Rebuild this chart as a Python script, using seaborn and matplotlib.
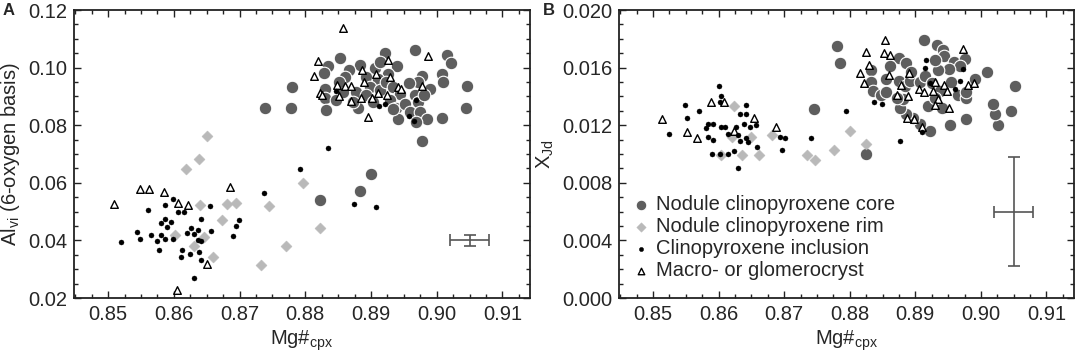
import numpy as np
import pandas as pd
import matplotlib
matplotlib.use("Agg")
import matplotlib.pyplot as plt
from matplotlib.ticker import MultipleLocator, FormatStrFormatter
import seaborn as sns

# ---------------- Panel A: Al_vi vs Mg# ----------------
a_core_x = [0.8738, 0.8779, 0.8780, 0.8822, 0.8883, 0.8900, 0.8978, 0.8967, 0.8922, 0.9016,
            0.9022, 0.8853, 0.8834, 0.8829, 0.8883, 0.8867, 0.8906, 0.8914, 0.8939, 0.8926,
            0.8860, 0.8893, 0.8911, 0.8977, 0.9008, 0.9010, 0.8990, 0.8972, 0.8958, 0.9046,
            0.8830, 0.8830, 0.8847, 0.8857, 0.8877, 0.8898, 0.8893, 0.8913, 0.8923, 0.8934,
            0.8944, 0.8929, 0.8903, 0.8880, 0.8872, 0.8831, 0.8938, 0.8952, 0.8967, 0.8972,
            0.8959, 0.8974, 0.8985, 0.8969, 0.8941, 0.8934, 0.9008, 0.9045, 0.8980, 0.8852]
a_core_y = [0.0860, 0.0860, 0.0933, 0.0542, 0.0572, 0.0630, 0.0746, 0.1061, 0.1049, 0.1043,
            0.1017, 0.1035, 0.1005, 0.0980, 0.1009, 0.0991, 0.0997, 0.1020, 0.1006, 0.0977,
            0.0966, 0.0968, 0.0962, 0.0970, 0.0977, 0.0951, 0.0927, 0.0951, 0.0945, 0.0936,
            0.0927, 0.0893, 0.0887, 0.0916, 0.0916, 0.0933, 0.0904, 0.0922, 0.0951, 0.0933,
            0.0910, 0.0887, 0.0881, 0.0861, 0.0881, 0.0854, 0.0858, 0.0875, 0.0904, 0.0881,
            0.0846, 0.0846, 0.0820, 0.0812, 0.0820, 0.0855, 0.0825, 0.0861, 0.0904, 0.0951]

a_rim_x = [0.8650, 0.8639, 0.8619, 0.8640, 0.8681, 0.8694, 0.8674, 0.8631, 0.8646, 0.8659,
           0.8602, 0.8745, 0.8796, 0.8822, 0.8771, 0.8732]
a_rim_y = [0.0761, 0.0681, 0.0648, 0.0522, 0.0526, 0.0531, 0.0472, 0.0382, 0.0411, 0.0342,
           0.0418, 0.0520, 0.0601, 0.0444, 0.0380, 0.0314]

a_incl_x = [0.8598, 0.8586, 0.8561, 0.8607, 0.8615, 0.8655, 0.8642, 0.8699, 0.8694, 0.8690,
            0.8586, 0.8580, 0.8596, 0.8590, 0.8544, 0.8549, 0.8565, 0.8519, 0.8575, 0.8578,
            0.8580, 0.8587, 0.8598, 0.8626, 0.8620, 0.8630, 0.8637, 0.8637, 0.8642, 0.8656,
            0.8613, 0.8611, 0.8625, 0.8638, 0.8641, 0.8630, 0.8847, 0.8912, 0.8921, 0.8969,
            0.8958, 0.8965, 0.8834, 0.8737, 0.8792, 0.8874, 0.8908]
a_incl_y = [0.0543, 0.0523, 0.0505, 0.0497, 0.0497, 0.0518, 0.0476, 0.0472, 0.0451, 0.0417,
            0.0476, 0.0460, 0.0465, 0.0448, 0.0428, 0.0405, 0.0420, 0.0394, 0.0397, 0.0367,
            0.0418, 0.0405, 0.0405, 0.0442, 0.0425, 0.0422, 0.0437, 0.0402, 0.0397, 0.0431,
            0.0365, 0.0344, 0.0354, 0.0359, 0.0333, 0.0270, 0.0919, 0.0866, 0.0872, 0.0887,
            0.0831, 0.0814, 0.0722, 0.0565, 0.0648, 0.0528, 0.0516]

a_macro_x = [0.8509, 0.8548, 0.8562, 0.8585, 0.8606, 0.8621, 0.8686, 0.8651, 0.8604, 0.8857,
             0.8819, 0.8814, 0.8987, 0.8926, 0.8887, 0.8907, 0.8889, 0.8929, 0.8849, 0.8860,
             0.8869, 0.8823, 0.8826, 0.8851, 0.8885, 0.8870, 0.8902, 0.8911, 0.8924, 0.8941,
             0.8946, 0.8977, 0.8895]
a_macro_y = [0.0528, 0.0580, 0.0580, 0.0569, 0.0531, 0.0522, 0.0585, 0.0319, 0.0227, 0.1136,
             0.1024, 0.0970, 0.1040, 0.1028, 0.0991, 0.0977, 0.0951, 0.0968, 0.0939, 0.0937,
             0.0937, 0.0912, 0.0904, 0.0901, 0.0896, 0.0883, 0.0896, 0.0912, 0.0904, 0.0933,
             0.0927, 0.0936, 0.0829]

# ---------------- Panel B: X_Jd vs Mg# ----------------
b_core_x = [0.8781, 0.8785, 0.8746, 0.8825, 0.9052, 0.9046, 0.9026, 0.9022, 0.9019, 0.9009,
            0.8953, 0.8923, 0.8978, 0.8913, 0.8933, 0.8942, 0.8943, 0.8959, 0.8976, 0.8968,
            0.8952, 0.8935, 0.8875, 0.8885, 0.8861, 0.8833, 0.8833, 0.8856, 0.8835, 0.8847,
            0.8875, 0.8884, 0.8892, 0.8907, 0.8914, 0.8925, 0.8937, 0.8955, 0.8965, 0.8978,
            0.8978, 0.8991, 0.8907, 0.8896, 0.8886, 0.8876, 0.8881, 0.8919, 0.8940, 0.8930,
            0.8856, 0.8872, 0.8894, 0.8930]
b_core_y = [0.0175, 0.0163, 0.0131, 0.0100, 0.0147, 0.0130, 0.0120, 0.0128, 0.0135, 0.0157,
            0.0120, 0.0116, 0.0124, 0.0179, 0.0176, 0.0172, 0.0168, 0.0164, 0.0166, 0.0161,
            0.0159, 0.0158, 0.0167, 0.0163, 0.0161, 0.0158, 0.0150, 0.0152, 0.0144, 0.0141,
            0.0151, 0.0147, 0.0151, 0.0150, 0.0154, 0.0149, 0.0144, 0.0150, 0.0141, 0.0139,
            0.0143, 0.0152, 0.0121, 0.0125, 0.0128, 0.0132, 0.0138, 0.0133, 0.0132, 0.0139,
            0.0143, 0.0139, 0.0157, 0.0165]

b_rim_x = [0.8623, 0.8620, 0.8649, 0.8635, 0.8662, 0.8682, 0.8734, 0.8747, 0.8776, 0.8603,
           0.8800, 0.8825]
b_rim_y = [0.0133, 0.0112, 0.0112, 0.0099, 0.0099, 0.0113, 0.0099, 0.0096, 0.0103, 0.0099,
           0.0116, 0.0107]

b_incl_x = [0.8600, 0.8604, 0.8602, 0.8548, 0.8570, 0.8552, 0.8524, 0.8641, 0.8633, 0.8641,
            0.8583, 0.8591, 0.8580, 0.8603, 0.8610, 0.8627, 0.8639, 0.8648, 0.8657, 0.8615,
            0.8629, 0.8583, 0.8591, 0.8633, 0.8641, 0.8645, 0.8659, 0.8590, 0.8602, 0.8615,
            0.8623, 0.8629, 0.8693, 0.8701, 0.8696, 0.8741, 0.8916, 0.8915, 0.8973, 0.8922,
            0.8968, 0.8960, 0.8837, 0.8849, 0.8794, 0.8910, 0.8877]
b_incl_y = [0.0147, 0.0140, 0.0136, 0.0134, 0.0130, 0.0125, 0.0114, 0.0134, 0.0128, 0.0128,
            0.0121, 0.0121, 0.0118, 0.0119, 0.0119, 0.0119, 0.0121, 0.0119, 0.0120, 0.0114,
            0.0113, 0.0112, 0.0110, 0.0109, 0.0111, 0.0108, 0.0105, 0.0100, 0.0100, 0.0100,
            0.0102, 0.0090, 0.0112, 0.0111, 0.0103, 0.0111, 0.0165, 0.0160, 0.0159, 0.0149,
            0.0151, 0.0145, 0.0136, 0.0135, 0.0130, 0.0115, 0.0109]

b_macro_x = [0.8513, 0.8589, 0.8608, 0.8552, 0.8567, 0.8654, 0.8623, 0.8688,
             0.8853, 0.8825, 0.8852, 0.8862, 0.8830, 0.8816, 0.8821, 0.8860, 0.8891, 0.8878,
             0.8872, 0.8889, 0.8905, 0.8913, 0.8930, 0.8927, 0.8944, 0.8949, 0.8980, 0.8990,
             0.8973, 0.8934, 0.8930, 0.8951, 0.8887, 0.8898, 0.8910]
b_macro_y = [0.0124, 0.0136, 0.0136, 0.0115, 0.0111, 0.0125, 0.0116, 0.0119,
             0.0179, 0.0171, 0.0170, 0.0169, 0.0162, 0.0156, 0.0149, 0.0155, 0.0156, 0.0148,
             0.0141, 0.0140, 0.0145, 0.0143, 0.0150, 0.0144, 0.0148, 0.0144, 0.0148, 0.0149,
             0.0173, 0.0138, 0.0134, 0.0132, 0.0125, 0.0124, 0.0119]

# representative analytical uncertainty (error cross)
err_a = {"x": [0.905], "y": [0.040], "xerr": [0.003], "yerr": [0.002]}
err_b = {"x": [0.905], "y": [0.006], "xerr": [0.003], "yerr": [0.0038]}

labels = ["Nodule clinopyroxene core", "Nodule clinopyroxene rim",
          "Clinopyroxene inclusion", "Macro- or glomerocryst"]

sns.set_style("ticks")
plt.rcParams["font.family"] = ["Liberation Sans", "DejaVu Sans"]
plt.rcParams["mathtext.fontset"] = "custom"
plt.rcParams["mathtext.rm"] = "Liberation Sans"
plt.rcParams["mathtext.it"] = "Liberation Sans:italic"

fig = plt.figure(figsize=(10.84, 3.54), dpi=100)
axA = fig.add_axes([74 / 1084, 1 - 298 / 354, 456 / 1084, 288 / 354])
axB = fig.add_axes([619 / 1084, 1 - 298 / 354, 455 / 1084, 288 / 354])

CORE = "#5e5e5e"
RIM = "#b9b9b9"


def draw(ax, cx, cy, rx, ry, ix, iy, mx, my, err, with_label):
    lab = labels if with_label else [None] * 4
    sns.scatterplot(x=cx, y=cy, ax=ax, marker="o", s=82, color=CORE,
                    edgecolor="white", linewidth=0.8, label=lab[0], zorder=3)
    sns.scatterplot(x=rx, y=ry, ax=ax, marker="D", s=32, color=RIM,
                    edgecolor=RIM, linewidth=0.3, label=lab[1], zorder=3)
    sns.scatterplot(x=mx, y=my, ax=ax, marker="^", s=30, facecolor="white",
                    edgecolor="black", linewidth=1.0, label=lab[3], zorder=4)
    sns.scatterplot(x=ix, y=iy, ax=ax, marker="o", s=13, color="black",
                    edgecolor="black", linewidth=0.3, label=lab[2], zorder=5)
    ax.errorbar(err["x"], err["y"], xerr=err["xerr"], yerr=err["yerr"],
                fmt="none", ecolor="#555555", elinewidth=1.2, capsize=4.5,
                capthick=1.2, zorder=2)
    ax.set_xlim(0.8448, 0.9142)
    ax.xaxis.set_major_locator(MultipleLocator(0.01))
    ax.xaxis.set_minor_locator(MultipleLocator(0.0025))
    ax.xaxis.set_major_formatter(FormatStrFormatter("%.2f"))
    ax.tick_params(which="both", direction="in", top=True, right=True,
                   labelsize=14.5, width=1.0, color="#222222")
    ax.tick_params(which="major", length=5, pad=5)
    ax.tick_params(which="minor", length=3)
    for sp in ax.spines.values():
        sp.set_linewidth(1.3)
        sp.set_color("#222222")
    ax.set_xlabel(r"Mg#$_{\mathregular{cpx}}$", fontsize=14.5, labelpad=3)


draw(axA, a_core_x, a_core_y, a_rim_x, a_rim_y, a_incl_x, a_incl_y,
     a_macro_x, a_macro_y, err_a, False)
axA.set_ylim(0.02, 0.12)
axA.yaxis.set_major_locator(MultipleLocator(0.02))
axA.yaxis.set_minor_locator(MultipleLocator(0.005))
axA.yaxis.set_major_formatter(FormatStrFormatter("%.2f"))
axA.set_ylabel(r"Al$_{\mathregular{vi}}$ (6-oxygen basis)", fontsize=14.5, labelpad=4)

draw(axB, b_core_x, b_core_y, b_rim_x, b_rim_y, b_incl_x, b_incl_y,
     b_macro_x, b_macro_y, err_b, True)
axB.set_ylim(0.0, 0.020)
axB.yaxis.set_major_locator(MultipleLocator(0.004))
axB.yaxis.set_minor_locator(MultipleLocator(0.001))
axB.yaxis.set_major_formatter(FormatStrFormatter("%.3f"))
axB.set_ylabel(r"X$_{\mathregular{Jd}}$", fontsize=14.5, labelpad=4)

handles, labs = axB.get_legend_handles_labels()
order = [labs.index(l) for l in labels]
axB.legend([handles[i] for i in order], [labs[i] for i in order],
           loc="lower left", bbox_to_anchor=(0.03, 0.062), frameon=False,
           fontsize=14.5, handlelength=0.8, handletextpad=0.35,
           labelspacing=0.15, borderpad=0, borderaxespad=0, markerscale=0.85)

fig.text(9 / 1084, 1 - 3 / 354, "A", fontsize=12, fontweight="bold", ha="center", va="top")
fig.text(549 / 1084, 1 - 3 / 354, "B", fontsize=12, fontweight="bold", ha="center", va="top")

fig.savefig("out.png", dpi=100)
